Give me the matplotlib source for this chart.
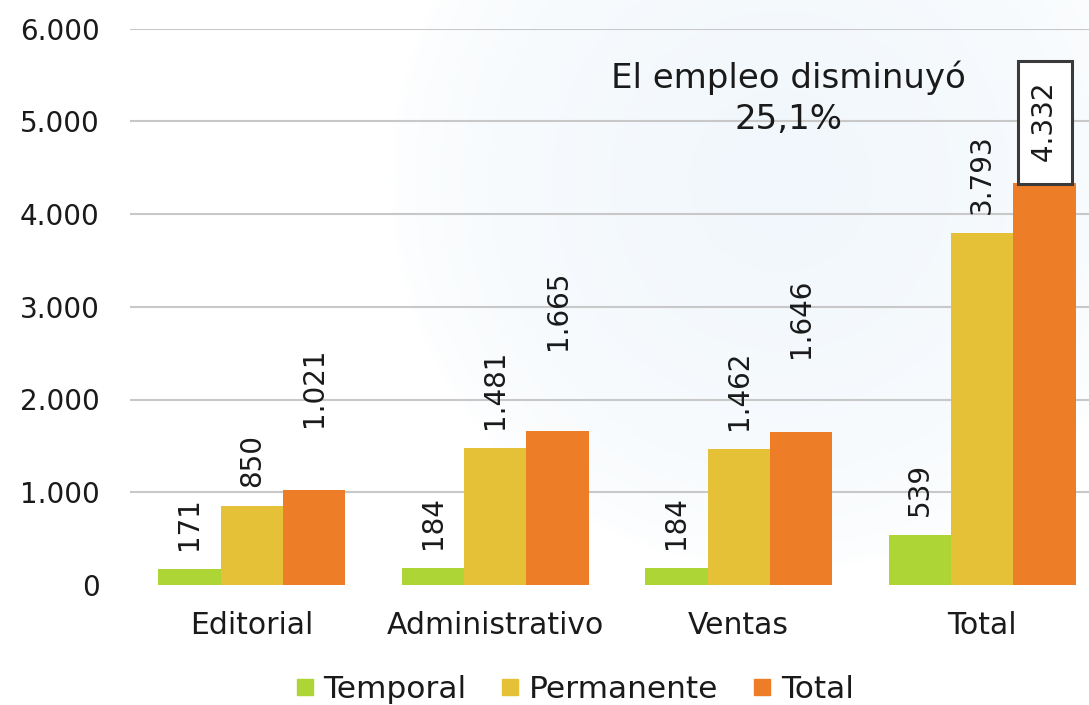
import numpy as np
import matplotlib
matplotlib.use("Agg")
import matplotlib.pyplot as plt
from matplotlib.lines import Line2D

# data
categories = ["Editorial", "Administrativo", "Ventas", "Total"]
series_names = ["Temporal", "Permanente", "Total"]
temporal = [171, 184, 184, 539]
permanente = [850, 1481, 1462, 3793]
total = [1021, 1665, 1646, 4332]
yticks = [0, 1000, 2000, 3000, 4000, 5000, 6000]
note = "El empleo disminuyó\n25,1%"

colors = ["#ADD535", "#E5C137", "#ED7D27"]
txt = "#1a1a1a"

# labels lifted by hand in the original (series, category) -> extra px
extra_lift = {(2, 0): 44, (2, 1): 62, (2, 2): 55}
boxed = (2, 3)


def fmt(v):
    return f"{v:,}".replace(",", ".")


plt.rcParams["font.family"] = ["DejaVu Sans"]
W, H = 1089, 705
fig = plt.figure(figsize=(W / 100, H / 100), dpi=100)

# soft blue glow in the background
bg = fig.add_axes([0, 0, 1, 1], zorder=-10)
yy, xx = np.mgrid[0:H, 0:W]
d = np.sqrt((xx - 780) ** 2 + (yy - 180) ** 2) / 390.0
t = np.clip(1 - d, 0, 1) ** 0.5
c0 = np.array([1.0, 1.0, 1.0])
c1 = np.array([241, 247, 252]) / 255.0
img = c0[None, None, :] * (1 - t[..., None]) + c1[None, None, :] * t[..., None]
bg.imshow(img, extent=[0, W, H, 0], aspect="auto")
bg.axis("off")

ax = fig.add_axes([130 / W, 120 / H, 974 / W, 556.5 / H])
ax.set_facecolor("none")

x = np.arange(len(categories))
bw = 0.256
all_series = [temporal, permanente, total]
for i, vals in enumerate(all_series):
    pos = x + (i - 1) * bw
    ax.bar(pos, vals, width=bw, color=colors[i], zorder=3, linewidth=0)
    for j, v in enumerate(vals):
        lift = (19 + extra_lift.get((i, j), 0)) * 0.72
        label = fmt(v)
        kw = {}
        if (i, j) == boxed:
            kw["bbox"] = dict(boxstyle="square,pad=0.47", fc="white",
                              ec="#3a3a3a", lw=2.2)
            label = " " + label + " "
            lift = 12 * 0.72
        ax.annotate(label, (pos[j], v), xytext=(0, lift),
                    textcoords="offset points", rotation=90,
                    ha="center", va="bottom", fontsize=20, color=txt,
                    zorder=5, **kw)

ax.set_xlim(-0.5, len(categories) - 0.5)
ax.set_ylim(0, 6000)
ax.set_yticks(yticks)
ax.set_yticklabels([fmt(v) for v in yticks], fontsize=20, color=txt)
ax.set_xticks(x)
ax.set_xticklabels(categories, fontsize=21.5, color=txt)
ax.tick_params(axis="y", length=0, pad=22)
ax.tick_params(axis="x", length=0, pad=19)
for s in ax.spines.values():
    s.set_visible(False)
ax.yaxis.grid(True, color="#c8c8c8", linewidth=1.5, zorder=0)
ax.set_axisbelow(True)
ax.get_ygridlines()[0].set_visible(False)

ax.text(2.206, 5250, note, ha="center", va="center", fontsize=24.5,
        color=txt, linespacing=1.3, zorder=6)

handles = [Line2D([], [], marker="s", linestyle="none", markersize=12,
                  markerfacecolor=c, markeredgecolor=c) for c in colors]
fig.legend(handles, series_names, loc="center", ncol=3,
           bbox_to_anchor=(573 / W, 1 - 689 / H), frameon=False,
           fontsize=22.5, handletextpad=0.2, columnspacing=1.0,
           handlelength=0.8, labelcolor=txt)

fig.savefig("out.png", dpi=100)
